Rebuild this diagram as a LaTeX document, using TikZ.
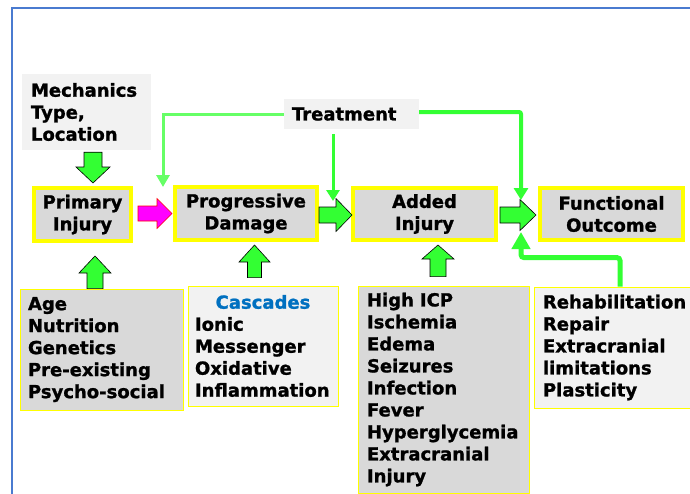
\documentclass[tikz,border=0pt]{standalone}
\usepackage{fontspec}
\setmainfont{DejaVu Sans}
\newfontfamily\heavyfont{DejaVu Sans Bold}[FakeBold=1.2]
\usetikzlibrary{calc,arrows.meta}
\definecolor{bgreen}{HTML}{33FF33}
\definecolor{lgreen}{HTML}{66FF66}
\definecolor{boxgray}{HTML}{D9D9D9}
\definecolor{lgray}{HTML}{F2F2F2}
\definecolor{ybord}{HTML}{FFFF00}
\definecolor{casblue}{HTML}{0070C0}
\definecolor{frameblue}{HTML}{4A7BD0}
\definecolor{magen}{HTML}{FF00FF}
% right-pointing block arrow: style, from, tip, shaft half, head half, head length
\newcommand{\rblock}[6]{\path[#1] let \p1=(#2), \p2=(#3) in
  (\x1,\y1+#4pt) -- (\x2-#6pt,\y1+#4pt) -- (\x2-#6pt,\y1+#5pt) -- (\x2,\y1)
  -- (\x2-#6pt,\y1-#5pt) -- (\x2-#6pt,\y1-#4pt) -- (\x1,\y1-#4pt) -- cycle;}
% upward block arrow
\newcommand{\ublock}[6]{\path[#1] let \p1=(#2), \p2=(#3) in
  (\x1-#4pt,\y1) -- (\x1+#4pt,\y1) -- (\x1+#4pt,\y2-#6pt) -- (\x1+#5pt,\y2-#6pt)
  -- (\x1,\y2) -- (\x1-#5pt,\y2-#6pt) -- (\x1-#4pt,\y2-#6pt) -- cycle;}
% downward block arrow
\newcommand{\dblock}[6]{\path[#1] let \p1=(#2), \p2=(#3) in
  (\x1-#4pt,\y1) -- (\x1+#4pt,\y1) -- (\x1+#4pt,\y2+#6pt) -- (\x1+#5pt,\y2+#6pt)
  -- (\x1,\y2) -- (\x1-#5pt,\y2+#6pt) -- (\x1-#4pt,\y2+#6pt) -- cycle;}
\tikzset{
  txt/.style={font=\heavyfont\fontsize{18}{22}\selectfont},
  mainbox/.style={txt, draw=ybord, line width=4pt, fill=boxgray, align=center, inner sep=0pt},
  listbox/.style={txt, draw=ybord, line width=0.8pt, align=left, inner ysep=0pt},
  plainbox/.style={txt, fill=lgray, align=left, inner ysep=0pt},
  gblock/.style={fill=bgreen, draw=black, line width=0.6pt},
}
\begin{document}
\begin{tikzpicture}[x=1pt,y=-1pt]
\useasboundingbox (0,0) rectangle (690,493);
\draw[frameblue, line width=2pt] (12,8) rectangle (720,520);

% top info boxes
\node[plainbox, text width=111pt, inner xsep=9pt, minimum height=76pt] (mech) at (86.5,112) {Mechanics\\Type,\\Location};
\node[plainbox, text width=119pt, inner xsep=8pt, minimum height=30pt] (treat) at (351.5,114) {Treatment};

% main chain
\node[mainbox, minimum width=97pt, minimum height=53pt] (prim) at (82.5,214.5) {Primary\\Injury};
\node[mainbox, minimum width=142pt, minimum height=53pt] (prog) at (246,213.5) {Progressive\\Damage};
\node[mainbox, minimum width=143pt, minimum height=52pt] (added) at (424.5,214) {Added\\Injury};
\node[mainbox, minimum width=143pt, minimum height=52pt] (func) at (611.5,214) {Functional\\Outcome};

% lower list boxes
\node[listbox, fill=boxgray, text width=147pt, inner xsep=8pt, minimum height=121pt] (age) at (101.5,349.5)
  {Age\\Nutrition\\Genetics\\Pre-existing\\Psycho-social};
\node[listbox, fill=lgray, text width=136pt, inner xsep=7pt, minimum height=120pt] (casc) at (263,346)
  {\makebox[136pt][c]{\color{casblue}Cascades}\\Ionic\\Messenger\\Oxidative\\Inflammation};
\node[listbox, fill=boxgray, text width=153pt, inner xsep=9pt, minimum height=207pt] (high) at (443.5,389.5)
  {High ICP\\Ischemia\\Edema\\Seizures\\Infection\\Fever\\Hyperglycemia\\Extracranial\\Injury};
\node[listbox, fill=lgray, text width=148pt, inner xsep=9pt, minimum height=121pt] (rehab) at (617,347.5)
  {Rehabilitation\\Repair\\Extracranial\\limitations\\Plasticity};

% block arrows
\rblock{fill=magen, draw=red, line width=0.6pt}{$(prim.east)+(5,-1)$}{$(prog.west)+(-1,0)$}{7.5}{15}{15}
\rblock{gblock}{$(prog.east)+(0,1.5)$}{$(added.west)+(1,0)$}{8}{16.5}{16}
\rblock{gblock}{$(added.east)+(2,1)$}{$(func.west)+(-2,1)$}{8}{15.5}{16}
\dblock{gblock}{$(mech.south)+(6.5,2)$}{$(prim.north)+(0,-3)$}{9}{17}{16}
\ublock{gblock}{$(age.north)+(-6.5,0)$}{$(prim.south)+(0,13)$}{8}{16}{17}
\ublock{gblock}{$(casc.north)+(-8.5,-8)$}{$(prog.south)+(0,3)$}{7}{15.5}{17}
\ublock{gblock}{$(high.north)+(-5.5,-9)$}{$(added.south)+(0,3)$}{8}{16}{14}

% treatment and rehabilitation connectors
\coordinate (t1) at (163,187);
\coordinate (t2) at (333,201);
\coordinate (t3) at (521,200);
\coordinate (t4) at (521,232);
\draw[lgreen, line width=3pt, -{Triangle[width=13pt,length=12pt]}] (treat.west) -| (t1);
\draw[bgreen, line width=3pt, -{Triangle[width=13pt,length=11pt]}] ($(treat.south)+(-18.5,5)$) -- (t2);
\draw[bgreen, line width=4pt, rounded corners=2pt, -{Triangle[width=14pt,length=12pt]}] ($(treat.east)+(0,-2)$) -| (t3);
\draw[bgreen, line width=5pt, rounded corners=3pt, -{Triangle[width=18pt,length=17pt]}] ($(rehab.north)+(3,0)$) -- ++(0,-29) -| (t4);
\end{tikzpicture}
\end{document}
